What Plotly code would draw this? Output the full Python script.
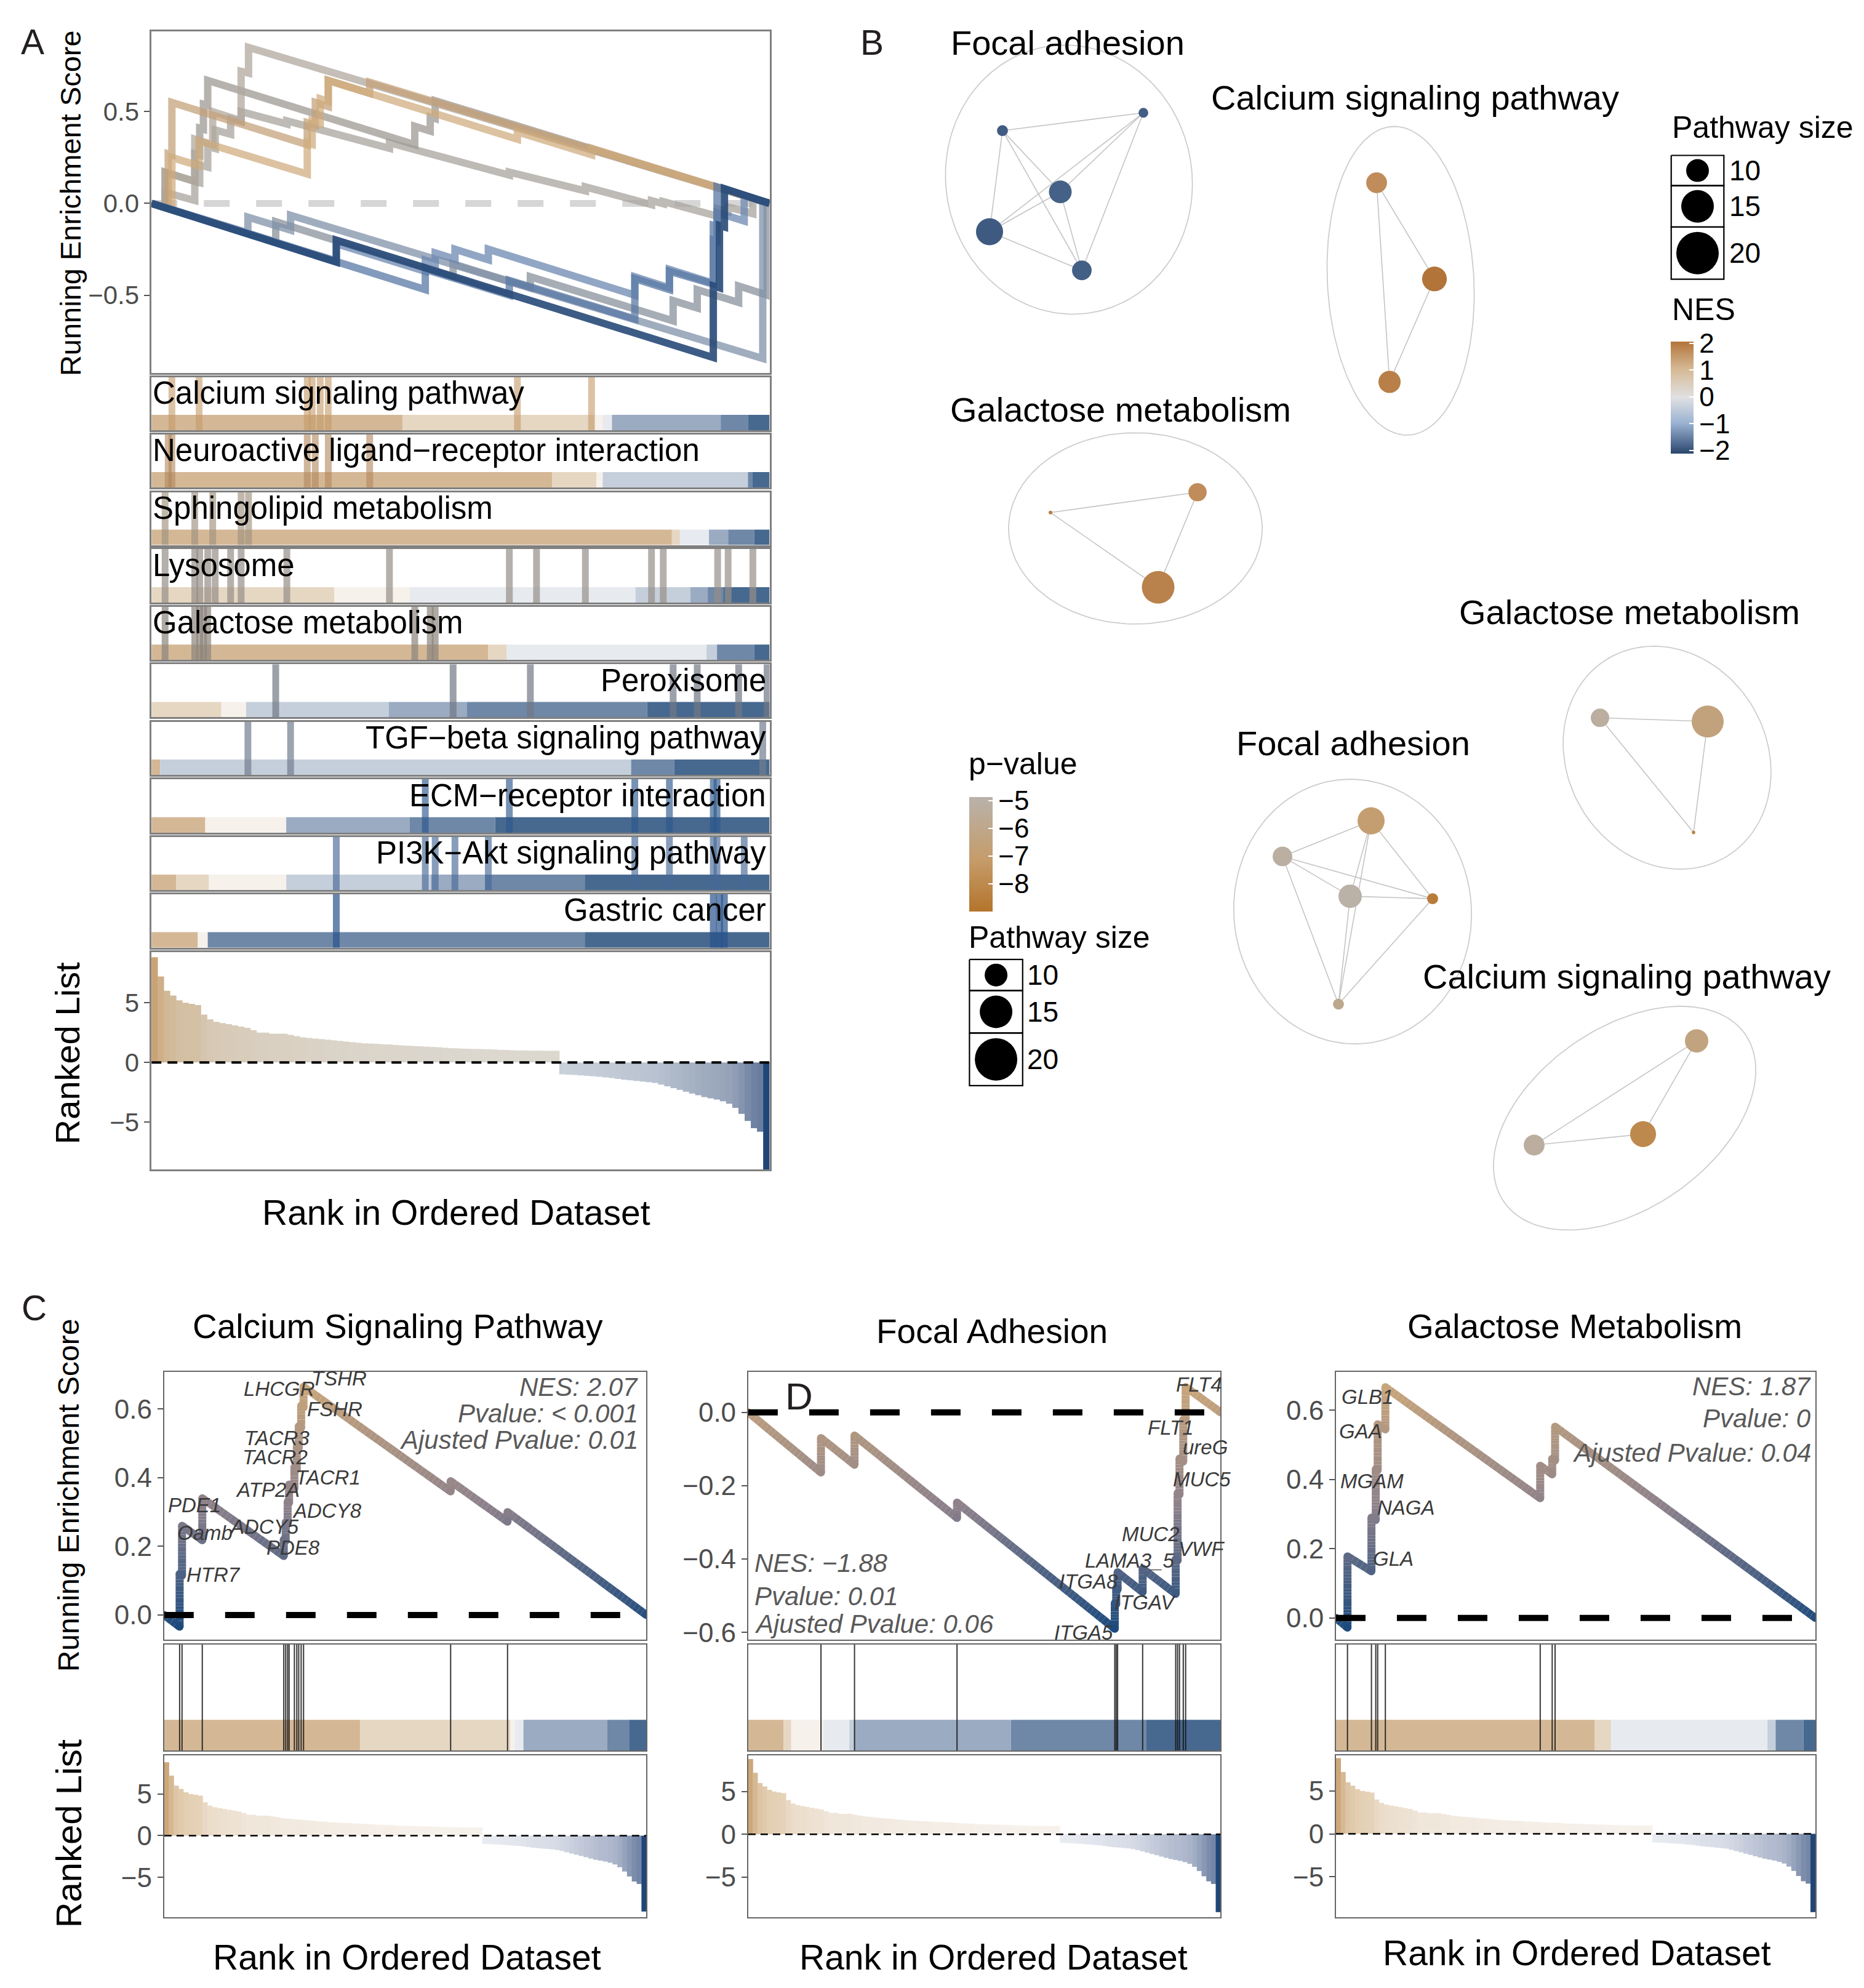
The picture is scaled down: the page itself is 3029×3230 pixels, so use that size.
import math
import plotly.graph_objects as go

W, H = 3029, 3230
TW = 1470.0
TH = TW * H / W
FONT = "Liberation Sans, Arial, Helvetica, sans-serif"


def fx(t):
    return t / TW


def fy(t):
    return 1.0 - t / TH


# ============================ DATA ============================
rank_bins = [i + 0.5 for i in range(100)]
ranked_values = [
    8.8, 7.2, 6.0, 5.6, 5.2, 5.0, 4.9, 4.8, 4.0, 3.6,
    3.4, 3.3, 3.2, 3.1, 3.0, 2.9, 2.7, 2.5, 2.5, 2.4,
    2.4, 2.4, 2.3, 2.2, 2.1, 2.05, 2.0, 1.95, 1.9, 1.85,
    1.8, 1.75, 1.7, 1.65, 1.6, 1.58, 1.55, 1.52, 1.5, 1.46,
    1.43, 1.4, 1.38, 1.35, 1.32, 1.3, 1.27, 1.24, 1.2, 1.18,
    1.16, 1.15, 1.13, 1.12, 1.1, 1.08, 1.06, 1.04, 1.02, 1.0,
    1.0, 0.99, 0.99, 0.98, 0.98, 0.97, -1.0, -1.02, -1.05, -1.08,
    -1.12, -1.16, -1.2, -1.25, -1.3, -1.38, -1.45, -1.5, -1.55, -1.6,
    -1.65, -1.72, -1.85, -2.0, -2.15, -2.3, -2.45, -2.6, -2.75, -2.9,
    -3.0, -3.1, -3.25, -3.45, -3.8, -4.3, -4.9, -5.5, -5.8, -9.1]

pathways_A = ["Calcium signaling pathway", "Neuroactive ligand\u2212receptor interaction",
              "Sphingolipid metabolism", "Lysosome", "Galactose metabolism", "Peroxisome",
              "TGF\u2212beta signaling pathway", "ECM\u2212receptor interaction",
              "PI3K\u2212Akt signaling pathway", "Gastric cancer"]

hits_A = [
    [3.3, 7.7, 25.2, 26.0, 27.3, 28.6, 59.2, 71.2],
    [2.7, 3.3, 25.2, 26.5, 28.6, 35.3],
    [2.2, 7.0, 9.9, 14.5, 15.7],
    [2.2, 7.0, 7.8, 9.1, 10.3, 12.8, 14.5, 21.9, 38.5, 57.9, 62.3, 70.2, 80.9, 82.8, 91.6, 93.3, 97.3],
    [2.2, 7.0, 7.8, 8.4, 9.1, 42.6, 45.1, 45.9],
    [20.1, 48.8, 61.3, 84.4, 88.3, 95.0, 99.6],
    [15.6, 22.5, 98.9],
    [44.3, 57.9, 78.2, 83.8, 90.9, 91.5],
    [29.9, 44.3, 45.9, 49.1, 54.5, 78.2, 83.8, 90.9, 91.5, 95.9],
    [29.9, 90.9, 91.9, 92.7],
]

es_x_A = [
    [0, 3.3, 3.3, 7.7, 7.7, 25.2, 25.2, 26.0, 26.0, 27.3, 27.3, 28.6, 28.6, 59.2, 59.2, 71.2, 71.2, 100],
    [0, 2.7, 2.7, 3.3, 3.3, 25.2, 25.2, 26.5, 26.5, 28.6, 28.6, 35.3, 35.3, 100],
    [0, 2.2, 2.2, 7.0, 7.0, 9.9, 9.9, 14.5, 14.5, 15.7, 15.7, 100],
    [0, 2.2, 2.2, 7.0, 7.0, 7.8, 7.8, 9.1, 9.1, 10.3, 10.3, 12.8, 12.8, 14.5, 14.5, 21.9, 21.9,
     38.5, 38.5, 57.9, 57.9, 62.3, 62.3, 70.2, 70.2, 80.9, 80.9, 82.8, 82.8, 91.6, 91.6, 93.3, 93.3,
     97.3, 97.3, 100],
    [0, 2.2, 2.2, 7.0, 7.0, 7.8, 7.8, 8.4, 8.4, 9.1, 9.1, 42.6, 42.6, 45.1, 45.1, 45.9, 45.9, 100],
    [0, 20.1, 20.1, 48.8, 48.8, 61.3, 61.3, 84.4, 84.4, 88.3, 88.3, 95.0, 95.0, 99.6, 99.6, 100],
    [0, 15.6, 15.6, 22.5, 22.5, 98.9, 98.9, 100],
    [0, 44.3, 44.3, 57.9, 57.9, 78.2, 78.2, 83.8, 83.8, 90.9, 90.9, 91.5, 91.5, 100],
    [0, 29.9, 29.9, 44.3, 44.3, 45.9, 45.9, 49.1, 49.1, 54.5, 54.5, 78.2, 78.2, 83.8, 83.8, 90.9,
     90.9, 91.5, 91.5, 95.9, 95.9, 100],
    [0, 29.9, 29.9, 90.9, 90.9, 91.9, 91.9, 92.7, 92.7, 100],
]
es_y_A = [
    [0, -0.035, 0.25, 0.205, 0.34, 0.16, 0.33, 0.322, 0.45, 0.437, 0.57, 0.556, 0.67, 0.35, 0.39, 0.265, 0.30, 0],
    [0, -0.028, 0.27, 0.264, 0.55, 0.32, 0.44, 0.427, 0.55, 0.528, 0.67, 0.60, 0.66, 0],
    [0, -0.023, 0.17, 0.12, 0.35, 0.32, 0.50, 0.45, 0.72, 0.71, 0.85, 0],
    [0, -0.02, 0.06, 0.016, 0.12, 0.113, 0.21, 0.198, 0.31, 0.299, 0.40, 0.377, 0.46, 0.445, 0.50,
     0.433, 0.45, 0.30, 0.33, 0.154, 0.17, 0.13, 0.14, 0.068, 0.09, -0.007, 0.015, -0.002, 0.01,
     -0.07, -0.03, -0.045, -0.02, -0.056, 0.024, 0],
    [0, -0.023, 0.17, 0.12, 0.27, 0.262, 0.41, 0.404, 0.54, 0.533, 0.67, 0.32, 0.42, 0.394, 0.47, 0.462, 0.56, 0],
    [0, -0.21, -0.10, -0.40, -0.33, -0.46, -0.40, -0.64, -0.53, -0.57, -0.47, -0.54, -0.45, -0.50, 0.004, 0],
    [0, -0.16, -0.075, -0.146, -0.065, -0.845, 0.011, 0],
    [0, -0.47, -0.36, -0.50, -0.42, -0.63, -0.41, -0.47, -0.37, -0.44, -0.12, -0.126, 0.09, 0],
    [0, -0.314, -0.22, -0.37, -0.31, -0.327, -0.27, -0.304, -0.25, -0.307, -0.25, -0.50, -0.40,
     -0.46, -0.36, -0.435, -0.2, -0.206, -0.05, -0.096, 0.043, 0],
    [0, -0.32, -0.20, -0.84, -0.45, -0.46, -0.12, -0.128, 0.08, 0],
]

band_breaks_A = [
    [0, 40.6, 71.6, 73.0, 74.5, 92.1, 96.5, 100],
    [0, 64.8, 72.0, 73.0, 96.5, 97.2, 100],
    [0, 84.2, 85.5, 90.2, 93.3, 97.5, 100],
    [0, 29.6, 41.8, 78.3, 87.2, 90.0, 92.5, 100],
    [0, 54.5, 57.5, 89.8, 91.5, 97.5, 100],
    [0, 11.3, 15.3, 38.4, 51.0, 80.2, 100],
    [0, 1.4, 77.6, 84.6, 100],
    [0, 8.7, 21.8, 41.8, 55.6, 100],
    [0, 4.0, 9.3, 21.8, 45.2, 53.9, 70.1, 100],
    [0, 7.5, 9.1, 70.1, 100],
]
band_levels_A = [
    [3, 2, 1, -1, -3, -4, -5],
    [3, 2, 1, -2, -4, -5],
    [3, 2, -1, -3, -4, -5],
    [2, 1, -1, -2, -3, -4, -5],
    [3, 2, -1, -2, -4, -5],
    [2, 1, -2, -3, -4, -5],
    [3, -2, -4, -5],
    [3, 1, -3, -4, -5],
    [3, 2, 1, -2, -3, -4, -5],
    [3, 1, -4, -5],
]

# Panel C
titles_C = ["Calcium Signaling Pathway", "Focal Adhesion", "Galactose Metabolism"]
hits_C = [
    [3.2, 3.7, 7.9, 24.8, 25.2, 25.6, 25.9, 27.0, 27.5, 27.9, 28.4, 28.9, 59.4, 71.2],
    [15.4, 22.5, 44.2, 77.6, 77.9, 78.2, 83.5, 90.5, 90.9, 91.3, 92.1, 92.6],
    [2.4, 7.4, 8.3, 8.7, 10.3, 42.6, 45.1, 45.7],
]
es_x_C = [
    [0, 3.2, 3.2, 3.7, 3.7, 7.9, 7.9, 24.8, 24.8, 25.2, 25.2, 25.6, 25.6, 25.9, 25.9, 27.0, 27.0,
     27.5, 27.5, 27.9, 27.9, 28.4, 28.4, 28.9, 28.9, 59.4, 59.4, 71.2, 71.2, 100],
    [0, 15.4, 15.4, 22.5, 22.5, 44.2, 44.2, 77.6, 77.6, 77.9, 77.9, 78.2, 78.2, 83.5, 83.5, 90.5,
     90.5, 90.9, 90.9, 91.3, 91.3, 92.1, 92.1, 92.6, 92.6, 100],
    [0, 2.4, 2.4, 7.4, 7.4, 8.3, 8.3, 8.7, 8.7, 10.3, 10.3, 42.6, 42.6, 45.1, 45.1, 45.7, 45.7, 100],
]
es_y_C = [
    [0, -0.034, 0.12, 0.115, 0.26, 0.218, 0.34, 0.172, 0.22, 0.216, 0.27, 0.266, 0.33, 0.327, 0.38,
     0.369, 0.43, 0.425, 0.49, 0.486, 0.55, 0.545, 0.61, 0.605, 0.665, 0.36, 0.39, 0.272, 0.30, 0],
    [0, -0.164, -0.07, -0.143, -0.063, -0.288, -0.246, -0.59, -0.52, -0.523, -0.48, -0.483, -0.436,
     -0.49, -0.426, -0.495, -0.40, -0.404, -0.22, -0.224, -0.126, -0.134, -0.02, -0.025, 0.069, 0],
    [0, -0.028, 0.178, 0.135, 0.29, 0.283, 0.43, 0.427, 0.56, 0.545, 0.667, 0.346, 0.44, 0.415,
     0.46, 0.455, 0.553, 0],
]
band_breaks_C = [
    [0, 40.6, 71.8, 72.7, 74.5, 91.9, 96.4, 100],
    [0, 7.5, 9.1, 15.9, 21.4, 22.4, 55.6, 84.3, 100],
    [0, 54.0, 57.4, 90.0, 91.7, 97.5, 100],
]
band_levels_C = [
    [3, 2, 1, -1, -3, -4, -5],
    [3, 2, 1, -1, -2, -3, -4, -5],
    [3, 2, -1, -2, -4, -5],
]
gene_names_C = [
    ["TSHR", "LHCGR", "FSHR", "TACR3", "TACR2", "TACR1", "ATP2A", "ADCY8", "PDE1", "Oamb", "ADCY5", "PDE8", "HTR7"],
    ["FLT4", "FLT1", "ureG", "MUC5", "MUC2", "VWF", "LAMA3_5", "ITGA8", "ITGAV", "ITGA5"],
    ["GLB1", "GAA", "MGAM", "NAGA", "GLA"],
]
gene_rank_C = [
    [36.3, 23.9, 35.4, 23.4, 23.0, 34.0, 21.4, 33.8, 6.3, 8.4, 20.7, 26.8, 10.2],
    [95.5, 89.5, 96.7, 96.0, 85.2, 96.0, 80.8, 72.1, 84.0, 71.0],
    [6.6, 5.2, 7.5, 14.6, 11.9],
]
gene_es_C = [
    [0.689, 0.658, 0.60, 0.516, 0.459, 0.401, 0.364, 0.304, 0.32, 0.239, 0.257, 0.196, 0.118],
    [0.076, -0.042, -0.095, -0.183, -0.332, -0.373, -0.404, -0.461, -0.518, -0.60],
    [0.64, 0.54, 0.396, 0.319, 0.171],
]
stats_C = [
    ["NES: 2.07", "Pvalue: < 0.001", "Ajusted Pvalue: 0.01"],
    ["NES: \u22121.88", "Pvalue: 0.01", "Ajusted Pvalue: 0.06"],
    ["NES: 1.87", "Pvalue: 0", "Ajusted Pvalue: 0.04"],
]

# Panel B (network layout coordinates in figure pixels)
b_titles = ["Focal adhesion", "Calcium signaling pathway", "Galactose metabolism",
            "Galactose metabolism", "Focal adhesion", "Calcium signaling pathway"]
b_title_x = [1727, 2291, 1813, 2640, 2191, 2635]
b_title_y = [62, 151, 660, 990, 1204, 1585]

nes_node_x = [1621, 1850, 1715, 1600, 1750, 2229, 2323, 2250, 1699, 1938, 1874]
nes_node_y = [205, 176, 305, 370, 433, 290, 447, 615, 828, 795, 950]
nes_node_size = [4.0, 3.4, 10.0, 12.2, 8.4, 9.0, 11.0, 9.7, 0.3, 7.7, 15.0]
nes_node_value = [-1.9, -1.88, -1.85, -1.92, -1.87, 1.7, 2.07, 1.9, 1.95, 1.7, 1.87]
nes_edges = [(0, 1), (0, 2), (0, 3), (0, 4), (1, 2), (1, 3), (1, 4), (2, 3), (2, 4), (3, 4),
             (5, 6), (5, 7), (6, 7), (8, 9), (8, 10), (9, 10)]
nes_hull_cx = [1729, 2268, 1837]
nes_hull_cy = [285, 450, 854]
nes_hull_a = [200, 119, 206]
nes_hull_b = [220, 252, 156]
nes_hull_rot = [-10, -3, 0]

p_node_x = [2220, 2076, 2186, 2320, 2167, 2592, 2767, 2744, 2749, 2662, 2485]
p_node_y = [1331, 1389, 1454, 1458, 1630, 1163, 1169, 1350, 1690, 1842, 1860]
p_node_size = [12.2, 8.4, 10.3, 4.0, 4.0, 7.8, 14.7, 0.2, 10.3, 11.6, 9.0]
p_node_logp = [-6.9, -5.2, -5.0, -8.6, -5.9, -5.3, -6.5, -8.3, -6.4, -8.0, -5.3]
p_edges = [(0, 1), (0, 2), (0, 3), (0, 4), (1, 2), (1, 3), (1, 4), (2, 3), (2, 4), (3, 4),
           (5, 6), (5, 7), (6, 7), (8, 9), (8, 10), (9, 10)]
p_hull_cx = [2190, 2701, 2632]
p_hull_cy = [1479, 1228, 1816]
p_hull_a = [193, 162, 239]
p_hull_b = [216, 188, 147]
p_hull_rot = [-5, -30, -35]

legend_sizes = [10, 15, 20]

# ============================ STYLE ============================
level_colors = {3: '#D4B896', 2: '#E6D7C3', 1: '#F6F1EB', -1: '#E7EBF0',
                -2: '#C5CFDB', -3: '#9AABC2', -4: '#6F88A8', -5: '#476990'}
curve_colors_A = ['rgba(207,170,124,0.72)', 'rgba(196,160,118,0.72)', 'rgba(176,168,158,0.75)',
                  'rgba(168,164,158,0.75)', 'rgba(158,154,148,0.75)', 'rgba(138,145,155,0.75)',
                  'rgba(128,146,170,0.75)', 'rgba(88,120,164,0.75)', 'rgba(108,136,176,0.75)',
                  'rgba(40,74,120,0.9)']
tick_colors_A = ['rgba(196,154,104,0.6)', 'rgba(176,134,90,0.6)', 'rgba(160,146,128,0.65)',
                 'rgba(150,143,135,0.7)', 'rgba(140,132,124,0.7)', 'rgba(112,120,132,0.7)',
                 'rgba(112,125,142,0.7)', 'rgba(45,88,140,0.65)', 'rgba(70,105,150,0.65)',
                 'rgba(40,82,140,0.7)']
draw_order_A = [3, 4, 2, 1, 0, 5, 6, 8, 7, 9]

ranked_stops_A = [(-9.1, '#1F4677'), (-5.5, '#6F82A3'), (-3.0, '#9DA9BD'), (-1.0, '#C8D0DA'),
                  (0.0, '#D5D5D3'), (1.0, '#DCD8D0'), (2.5, '#D9CFC0'), (5.0, '#D3BFA2'), (9.0, '#C9A273')]
ranked_stops_C = [(-9.1, '#1F4677'), (-5.5, '#7C8CAB'), (-3.0, '#B3BCCF'), (-1.0, '#E8EBF1'),
                  (0.0, '#F5F3F1'), (1.0, '#F6F1EB'), (2.5, '#F0E6DA'), (5.0, '#E4D0B5'), (9.0, '#CBA577')]
es_stops = [(0.0, '#1C4A7D'), (0.5, '#8C808B'), (1.0, '#C8A67B')]
nes_scale = [[0, '#2A466E'], [0.27, '#9AB2D2'], [0.5, '#E0E0E2'], [0.75, '#D6BA96'], [1, '#B3743A']]
p_scale = [[0, '#B4742C'], [0.45, '#C59C6A'], [1, '#B9B2AB']]


def hex_rgb(h):
    h = h.lstrip('#')
    return tuple(int(h[i:i + 2], 16) for i in (0, 2, 4))


def interp(stops, v):
    if v <= stops[0][0]:
        return 'rgb(%d,%d,%d)' % hex_rgb(stops[0][1])
    for (p0, c0), (p1, c1) in zip(stops[:-1], stops[1:]):
        if v <= p1:
            f = (v - p0) / (p1 - p0) if p1 > p0 else 0
            a, b = hex_rgb(c0), hex_rgb(c1)
            return 'rgb(%d,%d,%d)' % tuple(round(a[i] + (b[i] - a[i]) * f) for i in range(3))
    return 'rgb(%d,%d,%d)' % hex_rgb(stops[-1][1])


def node_px(size):
    return 3.2 * size + 5


# ============================ FIGURE ============================
traces = []
layout = {}
annotations = []
counter = [0]

AX_GREY_A = '#808080'
AX_GREY_C = '#666666'


def new_axes(xdom, ydom, xr, yr, linecolor=AX_GREY_A, lw=2.5, yticks=None, tickfont=42, visible=True):
    counter[0] += 1
    i = counter[0]
    xn = 'xaxis' if i == 1 else 'xaxis%d' % i
    yn = 'yaxis' if i == 1 else 'yaxis%d' % i
    xref = 'x' if i == 1 else 'x%d' % i
    yref = 'y' if i == 1 else 'y%d' % i
    layout[xn] = dict(domain=xdom, range=xr, anchor=yref, showgrid=False, zeroline=False,
                      showticklabels=False, ticks='', showline=visible, mirror=True,
                      linecolor=linecolor, linewidth=lw, visible=visible, fixedrange=True)
    yd = dict(domain=ydom, range=yr, anchor=xref, showgrid=False, zeroline=False,
              showline=visible, mirror=True, linecolor=linecolor, linewidth=lw,
              visible=visible, fixedrange=True)
    if yticks:
        yd.update(tickvals=yticks[0], ticktext=yticks[1], ticks='outside', ticklen=9, tickwidth=2,
                  tickcolor='#555555', tickfont=dict(size=tickfont, color='#4D4D4D', family=FONT))
    else:
        yd.update(showticklabels=False, ticks='')
    layout[yn] = yd
    return xref, yref


def text(x, y, s, size, xref='paper', yref='paper', xanchor='center', yanchor='middle',
         color='black', angle=0):
    annotations.append(dict(x=x, y=y, text=s, xref=xref, yref=yref, xanchor=xanchor,
                            yanchor=yanchor, showarrow=False, textangle=angle,
                            font=dict(size=size, color=color, family=FONT)))


def line_trace(xs, ys, xr, yr, color, width, dash=None, opacity=1.0):
    ln = dict(color=color, width=width)
    if dash:
        ln['dash'] = dash
    return go.Scatter(x=xs, y=ys, xaxis=xr, yaxis=yr, mode='lines', line=ln,
                      opacity=opacity, hoverinfo='skip', showlegend=False)


def band_trace(breaks, levels, xr, yr, h=0.29):
    centers = [(breaks[i] + breaks[i + 1]) / 2 for i in range(len(levels))]
    widths = [breaks[i + 1] - breaks[i] for i in range(len(levels))]
    return go.Bar(x=centers, y=[h] * len(levels), base=0, width=widths, xaxis=xr, yaxis=yr,
                  marker=dict(color=[level_colors[l] for l in levels], line=dict(width=0)),
                  hoverinfo='skip', showlegend=False)


def hit_trace(hits, xr, yr, color, width):
    xs, ys = [], []
    for h in hits:
        xs += [h, h, None]
        ys += [0, 1, None]
    return line_trace(xs, ys, xr, yr, color, width)


def ranked_trace(xr, yr, stops):
    cols = [interp(stops, v) for v in ranked_values]
    return go.Bar(x=rank_bins, y=ranked_values, width=1.06, xaxis=xr, yaxis=yr,
                  marker=dict(color=cols, line=dict(width=0)), hoverinfo='skip', showlegend=False)


def gradient_es(xs, ys, xr, yr, width, nbins=40):
    ymin, ymax = min(ys), max(ys)
    span = ymax - ymin
    bins = {}
    for i in range(len(xs) - 1):
        x0, y0, x1, y1 = xs[i], ys[i], xs[i + 1], ys[i + 1]
        n = max(1, int(math.ceil(max(abs(x1 - x0) / 100.0, abs(y1 - y0) / span) * 80)))
        for k in range(n):
            a, b = k / n, (k + 1) / n
            px0, py0 = x0 + (x1 - x0) * a, y0 + (y1 - y0) * a
            px1, py1 = x0 + (x1 - x0) * b, y0 + (y1 - y0) * b
            t = ((py0 + py1) / 2 - ymin) / span
            bi = int(round(t * (nbins - 1)))
            bx, by = bins.setdefault(bi, ([], []))
            bx += [px0, px1, None]
            by += [py0, py1, None]
    out = []
    for bi in sorted(bins):
        bx, by = bins[bi]
        out.append(line_trace(bx, by, xr, yr, interp(es_stops, bi / (nbins - 1)), width))
    vcols = [interp(es_stops, (y - ymin) / span) for y in ys]
    out.append(go.Scatter(x=xs, y=ys, xaxis=xr, yaxis=yr, mode='markers',
                          marker=dict(size=width, color=vcols, opacity=1, line=dict(width=0)),
                          hoverinfo='skip', showlegend=False))
    return out


# ---------------- Panel A ----------------
AX0, AX1 = fx(115.6), fx(603.0)
xa, ya = new_axes([AX0, AX1], [fy(291.5), fy(21)], [0, 100], [-0.925, 0.937],
                  yticks=([-0.5, 0, 0.5], ['\u22120.5', '0.0', '0.5']), tickfont=42)
traces.append(line_trace([0, 100], [0, 0], xa, ya, '#D6D6D6', 11, dash='42px,43px'))
for k in draw_order_A:
    traces.append(line_trace(es_x_A[k], es_y_A[k], xa, ya, curve_colors_A[k], 12))

strip_rows = [(294.6, 336.8), (340.0, 382.0), (385.7, 427.6), (430.8, 473.2), (476.6, 518.6),
              (522.0, 564.0), (567.7, 609.6), (613.0, 655.4), (658.6, 700.8), (704.0, 746.4)]
for k in range(10):
    t0, t1 = strip_rows[k]
    xs_, ys_ = new_axes([AX0, AX1], [fy(t1), fy(t0)], [0, 100], [0, 1])
    traces.append(band_trace(band_breaks_A[k], band_levels_A[k], xs_, ys_))
    traces.append(hit_trace(hits_A[k], xs_, ys_, tick_colors_A[k], 11))
    if k < 5:
        text(0.0, 0.70, pathways_A[k], 51, xref=xs_ + ' domain', yref=ys_ + ' domain', xanchor='left')
    else:
        text(0.997, 0.70, pathways_A[k], 51, xref=xs_ + ' domain', yref=ys_ + ' domain', xanchor='right')

xr_, yr_ = new_axes([AX0, AX1], [fy(922), fy(750)], [0, 100], [-8.96, 9.22],
                    yticks=([-5, 0, 5], ['\u22125', '0', '5']), tickfont=42)
traces.append(ranked_trace(xr_, yr_, ranked_stops_A))
traces.append(line_trace([0, 100], [0, 0], xr_, yr_, 'black', 4, dash='16px,10px'))

text(fx(51.4), fy(157), 'Running Enrichment Score', 47, angle=-90)
text(fx(49.4), fy(830), 'Ranked List', 56, angle=-90)
text(fx(356), fy(956), 'Rank in Ordered Dataset', 57)
text(fx(21.8), fy(29), 'A', 57, color='#231F20')

# ---------------- Panel B ----------------
xb, yb = new_axes([1400 / W, 1.0], [1 - 2100 / H, 1.0], [1400, 3029], [2100, 0], visible=False)


def hull_xy(cx, cy, a, b, rot, n=160):
    ph = math.radians(rot)
    xs, ys = [], []
    for i in range(n + 1):
        t = 2 * math.pi * i / n
        ex, ey = a * math.cos(t), b * math.sin(t)
        xs.append(cx + ex * math.cos(ph) - ey * math.sin(ph))
        ys.append(cy + ex * math.sin(ph) + ey * math.cos(ph))
    return xs, ys


for cxs, cys, as_, bs_, rots in [(nes_hull_cx, nes_hull_cy, nes_hull_a, nes_hull_b, nes_hull_rot),
                                  (p_hull_cx, p_hull_cy, p_hull_a, p_hull_b, p_hull_rot)]:
    for i in range(len(cxs)):
        hx, hy = hull_xy(cxs[i], cys[i], as_[i], bs_[i], rots[i])
        traces.append(line_trace(hx, hy, xb, yb, '#CDCDCD', 1.8))

for nx, ny, edges in [(nes_node_x, nes_node_y, nes_edges), (p_node_x, p_node_y, p_edges)]:
    ex, ey = [], []
    for a, b in edges:
        ex += [nx[a], nx[b], None]
        ey += [ny[a], ny[b], None]
    traces.append(line_trace(ex, ey, xb, yb, '#C4C4C4', 1.6))

traces.append(go.Scatter(
    x=nes_node_x, y=nes_node_y, xaxis=xb, yaxis=yb, mode='markers', hoverinfo='skip', showlegend=False,
    marker=dict(size=[node_px(s) for s in nes_node_size], color=nes_node_value, colorscale=nes_scale,
                cmin=-2.13, cmax=2.06, opacity=1, line=dict(width=0), showscale=True,
                colorbar=dict(x=2707 / W, xanchor='left', y=1 - 641 / H, yanchor='middle',
                              lenmode='pixels', len=182, thickness=37, xpad=0, ypad=0, outlinewidth=0,
                              tickvals=[2, 1, 0, -1, -2], ticktext=['2', '1', '0', '\u22121', '\u22122'],
                              ticks='inside', ticklen=7, tickcolor='white', tickwidth=2,
                              tickfont=dict(size=44, color='black', family=FONT)))))
traces.append(go.Scatter(
    x=p_node_x, y=p_node_y, xaxis=xb, yaxis=yb, mode='markers', hoverinfo='skip', showlegend=False,
    marker=dict(size=[node_px(s) for s in p_node_size], color=p_node_logp, colorscale=p_scale,
                cmin=-8.99, cmax=-4.865, opacity=1, line=dict(width=0), showscale=True,
                colorbar=dict(x=1567.4 / W, xanchor='left', y=1 - 1385.2 / H, yanchor='middle',
                              lenmode='pixels', len=186, thickness=38, xpad=0, ypad=0, outlinewidth=0,
                              tickvals=[-5, -6, -7, -8],
                              ticktext=['\u22125', '\u22126', '\u22127', '\u22128'],
                              ticks='inside', ticklen=7, tickcolor='white', tickwidth=2,
                              tickfont=dict(size=44, color='black', family=FONT)))))

for i, s in enumerate(b_titles):
    text(b_title_x[i], b_title_y[i], s, 56, xref=xb, yref=yb)

# size legends
for (lx0, lx1, rows, labx) in [(2707.7, 2793.3, [(245.5, 294.9), (294.9, 362.2), (362.2, 447.4)], 2799.6),
                               (1567.4, 1653.8, [(1557.2, 1607.8), (1607.8, 1677.2), (1677.2, 1763.0)], 1658.7)]:
    bx, by = [], []
    for (r0, r1) in rows:
        bx += [lx0, lx1, lx1, lx0, lx0, None]
        by += [r0, r0, r1, r1, r0, None]
    traces.append(line_trace(bx, by, xb, yb, 'black', 2.2))
    cxs = [(lx0 + lx1) / 2] * 3
    cys = [(r0 + r1) / 2 for r0, r1 in rows]
    traces.append(go.Scatter(x=cxs, y=cys, xaxis=xb, yaxis=yb, mode='markers', hoverinfo='skip',
                             showlegend=False,
                             marker=dict(size=[node_px(s) for s in legend_sizes], color='#000000',
                                         opacity=1, line=dict(width=0))))
    for j, s in enumerate(legend_sizes):
        text(labx, cys[j], str(s), 46, xref=xb, yref=yb, xanchor='left')

text(2707.0, 200, 'Pathway size', 50, xref=xb, yref=yb, xanchor='left')
text(2707.0, 497, 'NES', 50, xref=xb, yref=yb, xanchor='left')
text(1564.4, 1238, 'p\u2212value', 50, xref=xb, yref=yb, xanchor='left')
text(1564.4, 1521, 'Pathway size', 50, xref=xb, yref=yb, xanchor='left')
text(fx(684), fy(29.5), 'B', 57, color='#231F20')

# ---------------- Panel C ----------------
col_x = [(125.6, 505.9), (586.2, 958.7), (1049.7, 1427.8)]
es_ranges = [[-0.071, 0.709], [-0.619, 0.111], [-0.062, 0.712]]
es_ticks = [([0, 0.2, 0.4, 0.6], ['0.0', '0.2', '0.4', '0.6']),
            ([-0.6, -0.4, -0.2, 0.0], ['\u22120.6', '\u22120.4', '\u22120.2', '0.0']),
            ([0, 0.2, 0.4, 0.6], ['0.0', '0.2', '0.4', '0.6'])]
rk_ranges = [[-9.8, 9.6], [-9.7, 9.2], [-9.7, 9.1]]
title_pos = [(309.8, 1046.3), (778.3, 1050.0), (1238.0, 1046.3)]
xtitle_pos = [(317.0, 1545.6), (779.8, 1545.6), (1239.9, 1542.0)]
stat_anchor = [('right', 98.6, [0.664, 0.588, 0.510]), ('left', 1.0, [-0.41, -0.501, -0.577]),
               ('right', 99.3, [0.67, 0.576, 0.477])]

for c in range(3):
    xd = [fx(col_x[c][0]), fx(col_x[c][1])]
    xe, ye = new_axes(xd, [fy(1294), fy(1082)], [0, 100], es_ranges[c], linecolor=AX_GREY_C, lw=2,
                      yticks=es_ticks[c], tickfont=44)
    traces.extend(gradient_es(es_x_C[c], es_y_C[c], xe, ye, 13))
    traces.append(line_trace([0, 100], [0, 0], xe, ye, 'black', 10, dash='48px,51px'))
    for g, gx, gy in zip(gene_names_C[c], gene_rank_C[c], gene_es_C[c]):
        text(gx, gy, '<i>%s</i>' % g, 33, xref=xe, yref=ye, color='#3A3A3A')
    anc, sx, sys_ = stat_anchor[c]
    for s, sy in zip(stats_C[c], sys_):
        text(sx, sy, '<i>%s</i>' % s, 42, xref=xe, yref=ye, xanchor=anc, color='#595959')

    xs_, ys_ = new_axes(xd, [fy(1382), fy(1298)], [0, 100], [0, 1], linecolor=AX_GREY_C, lw=2)
    traces.append(band_trace(band_breaks_C[c], band_levels_C[c], xs_, ys_))
    traces.append(hit_trace(hits_C[c], xs_, ys_, 'rgba(20,20,20,0.85)', 2))

    xk, yk = new_axes(xd, [fy(1514), fy(1386)], [0, 100], rk_ranges[c], linecolor=AX_GREY_C, lw=2,
                      yticks=([-5, 0, 5], ['\u22125', '0', '5']), tickfont=44)
    traces.append(ranked_trace(xk, yk, ranked_stops_C))
    traces.append(line_trace([0, 100], [0, 0], xk, yk, 'black', 2.5, dash='12px,8px'))

    text(fx(title_pos[c][0]), fy(title_pos[c][1]), titles_C[c], 55)
    text(fx(xtitle_pos[c][0]), fy(xtitle_pos[c][1]), 'Rank in Ordered Dataset', 57)
    if c == 1:
        text(10.7, 0.044, 'D', 62, xref=xe, yref=ye, color='#231F20')

text(fx(50.3), fy(1180), 'Running Enrichment Score', 48, angle=-90)
text(fx(50.3), fy(1448), 'Ranked List', 58, angle=-90)
text(fx(23), fy(1031.6), 'C', 57, color='#231F20')

fig = go.Figure(data=traces)
fig.update_layout(**layout)
fig.update_layout(width=W, height=H, margin=dict(l=0, r=0, t=0, b=0), showlegend=False,
                  paper_bgcolor='white', plot_bgcolor='white', hovermode=False,
                  annotations=annotations, font=dict(family=FONT), barmode='overlay')
fig.write_html("out.html")
